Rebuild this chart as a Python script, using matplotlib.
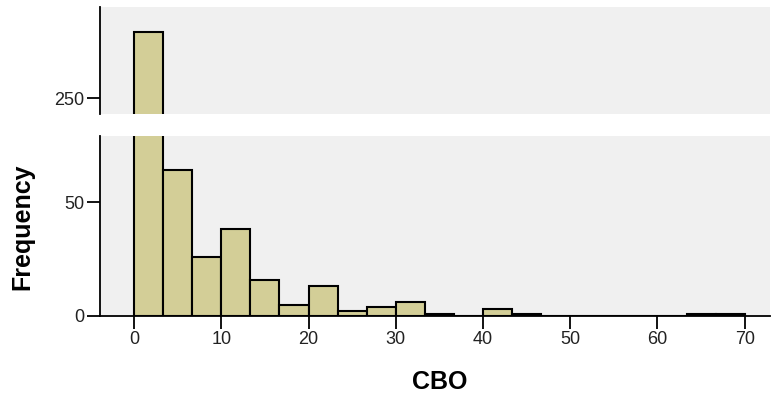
import numpy as np
import matplotlib
matplotlib.use("Agg")
import matplotlib.pyplot as plt

plt.rcParams['font.family'] = ['Liberation Sans', 'DejaVu Sans']

# histogram of CBO, 21 bins of width 70/21
bin_edges = np.linspace(0, 70, 22)
counts = [279, 64, 26, 38, 16, 5, 13, 2, 4, 6, 1, 0, 3, 1, 0, 0, 0, 0, 0, 1, 1]
top_ticks = [250]
bottom_ticks = [0, 50]
x_ticks = [0, 10, 20, 30, 40, 50, 60, 70]

bar_color = '#d3ce97'
panel_color = '#f0f0f0'
tick_font = ['Liberation Sans Narrow', 'Liberation Sans', 'DejaVu Sans']

fig = plt.figure(figsize=(7.72, 3.95), dpi=100)
W, H = 772, 395
left, right = 100 / W, 770 / W
ax_top = fig.add_axes([left, 1 - 114 / H, right - left, 107 / H])
ax_bot = fig.add_axes([left, 1 - 316 / H, right - left, 180 / H])

lefts = bin_edges[:-1]
widths = np.diff(bin_edges)
for ax in (ax_top, ax_bot):
    ax.set_facecolor(panel_color)
    ax.bar(lefts, counts, width=widths, align='edge', color=bar_color,
           edgecolor='black', linewidth=1.5, zorder=2)
    ax.set_xlim(-3.9, 72.9)
    for s in ('top', 'right'):
        ax.spines[s].set_visible(False)
    ax.spines['left'].set_linewidth(1.3)
    ax.tick_params(axis='y', direction='out', length=9.5, width=1.3,
                   labelsize=13, pad=2, labelcolor='#222222')

ax_top.set_ylim(243, 290)
ax_top.set_yticks(top_ticks)
ax_top.spines['bottom'].set_visible(False)
ax_top.set_xticks([])

ax_bot.set_ylim(0, 79)
ax_bot.set_yticks(bottom_ticks)
ax_bot.spines['bottom'].set_linewidth(1.3)
ax_bot.set_xticks(x_ticks)
ax_bot.tick_params(axis='x', direction='out', length=9.5, width=1.3,
                   labelsize=13, pad=1, labelcolor='#222222')

for lab in ax_top.get_yticklabels() + ax_bot.get_yticklabels() + ax_bot.get_xticklabels():
    lab.set_family(tick_font)

fig.text(22 / W, 1 - 227 / H, 'Frequency', rotation=90, fontsize=18,
         fontweight='bold', ha='center', va='center')
fig.text(440 / W, 1 - 382 / H, 'CBO', fontsize=18, fontweight='bold',
         ha='center', va='center')

fig.savefig('out.png', dpi=100)
